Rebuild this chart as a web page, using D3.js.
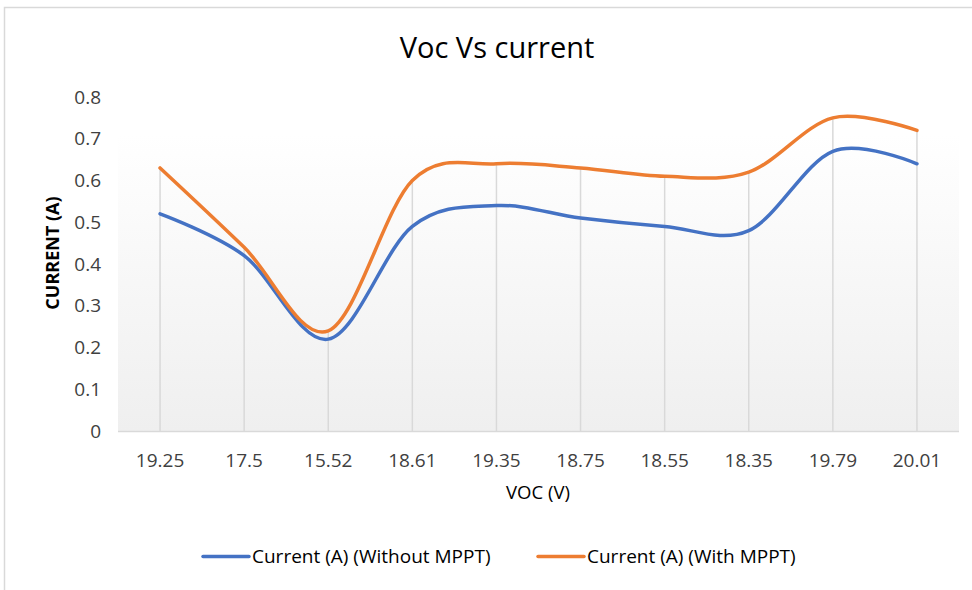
<!DOCTYPE html>
<html>
<head>
<meta charset="utf-8">
<script src="https://cdn.jsdelivr.net/npm/d3@7"></script>
<style>
  html, body { margin: 0; padding: 0; background: #fff; }
  svg { display: block; }
  text { font-family: "Open Sans", "Noto Sans", sans-serif; fill: #404040; }
</style>
</head>
<body>
<svg id="chart" width="972" height="590"></svg>
<script>
const categories = ["19.25", "17.5", "15.52", "18.61", "19.35", "18.75", "18.55", "18.35", "19.79", "20.01"];
const withoutMPPT = [0.52, 0.42, 0.22, 0.49, 0.54, 0.51, 0.49, 0.48, 0.67, 0.64];
const withMPPT = [0.63, 0.44, 0.24, 0.60, 0.64, 0.63, 0.61, 0.62, 0.75, 0.72];
const yTicks = [0, 0.1, 0.2, 0.3, 0.4, 0.5, 0.6, 0.7, 0.8];
const seriesNames = ["Current (A) (Without MPPT)", "Current (A) (With MPPT)"];
const colors = ["#4472C4", "#ED7D31"];

const svg = d3.select("#chart");

// chart area border
svg.append("rect").attr("x", 4.5).attr("y", 7.5).attr("width", 1000).attr("height", 1000)
  .attr("fill", "#fff").attr("stroke", "#d9d9d9").attr("stroke-width", 1.5);

const pLeft = 118, pRight = 959, pTop = 97, pBottom = 431;

const x = d3.scaleBand().domain(categories).range([pLeft, pRight]);
const y = d3.scaleLinear().domain([0, 0.8]).range([pBottom, pTop]);

// plot area gradient
const defs = svg.append("defs");
const grad = defs.append("linearGradient").attr("id", "pg").attr("x1", 0).attr("y1", 0).attr("x2", 0).attr("y2", 1);
grad.append("stop").attr("offset", "0%").attr("stop-color", "#ffffff");
grad.append("stop").attr("offset", "100%").attr("stop-color", "#efefef");
svg.append("rect").attr("x", pLeft).attr("y", y(0.71)).attr("width", pRight - pLeft)
  .attr("height", pBottom - y(0.71)).attr("fill", "url(#pg)");

// drop lines
const cx = d => x(d) + x.bandwidth() / 2;
svg.append("g").selectAll("line").data(categories).join("line")
  .attr("x1", d => cx(d)).attr("x2", d => cx(d))
  .attr("y1", (d, i) => y(Math.max(withoutMPPT[i], withMPPT[i])))
  .attr("y2", y(0))
  .attr("stroke", "#d9d9d9").attr("stroke-width", 1.5);

// x axis line
svg.append("line").attr("x1", pLeft).attr("x2", pRight).attr("y1", y(0) + 0.5).attr("y2", y(0) + 0.5)
  .attr("stroke", "#d9d9d9").attr("stroke-width", 1.5);

// y tick labels
const yAxis = d3.axisLeft(y).tickValues(yTicks).tickSize(0).tickPadding(0).tickFormat(d => d === 0 ? "0" : d3.format(".1f")(d));
const ya = svg.append("g").attr("transform", `translate(${101},0)`).call(yAxis);
ya.select(".domain").remove();
ya.selectAll("text").attr("font-size", 19).attr("fill", "#404040")
  .style("font-family", '"Open Sans", sans-serif');

// x tick labels
const xAxis = d3.axisBottom(x).tickSize(0).tickPadding(0);
const xa = svg.append("g").attr("transform", `translate(0,${467})`).call(xAxis);
xa.select(".domain").remove();
xa.selectAll("text").attr("font-size", 19).attr("fill", "#404040").attr("dy", "0").attr("y", 0)
  .style("font-family", '"Open Sans", sans-serif');

// lines
const line = d3.line().x((d, i) => cx(categories[i])).y(d => y(d)).curve(d3.curveCardinal.tension(0));
[withoutMPPT, withMPPT].forEach((s, k) => {
  svg.append("path").datum(s).attr("d", line).attr("fill", "none")
    .attr("stroke", colors[k]).attr("stroke-width", 3.5).attr("stroke-linecap", "round").attr("stroke-linejoin", "round");
});

// title
svg.append("text").attr("x", 497).attr("y", 58).attr("text-anchor", "middle")
  .attr("font-size", 29).style("fill", "#000").text("Voc Vs current");

// y axis title
svg.append("text").attr("transform", `translate(59,${253}) rotate(-90)`).attr("text-anchor", "middle")
  .attr("font-size", 18).attr("font-weight", "bold").style("fill", "#000").text("CURRENT (A)");

// x axis title
svg.append("text").attr("x", 538).attr("y", 499).attr("text-anchor", "middle")
  .attr("font-size", 18.5).style("fill", "#000").text("VOC (V)");

// legend
const legend = [{x: 203, tx: 252}, {x: 538, tx: 587}];
legend.forEach((l, k) => {
  svg.append("line").attr("x1", l.x).attr("x2", l.x + 46).attr("y1", 556.5).attr("y2", 556.5)
    .attr("stroke", colors[k]).attr("stroke-width", 3.5).attr("stroke-linecap", "round");
  svg.append("text").attr("x", l.tx).attr("y", 563)
    .attr("font-size", 19).style("fill", "#000").text(seriesNames[k]);
});
</script>
</body>
</html>
